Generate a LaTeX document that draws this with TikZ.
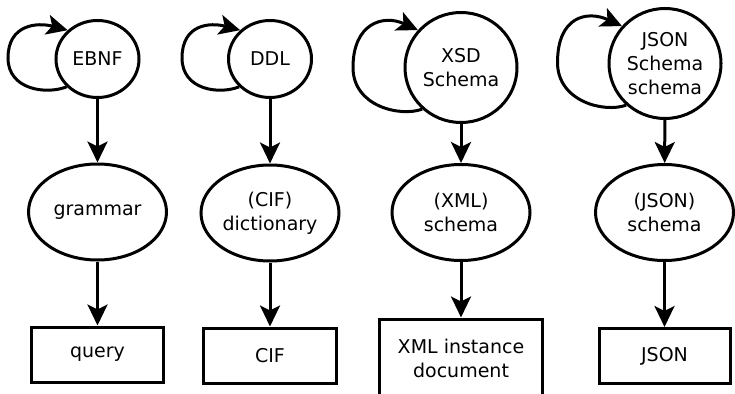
\documentclass[tikz,border=0pt]{standalone}
\usepackage{fontspec}
\setmainfont{DejaVu Sans}
\usetikzlibrary{shapes.geometric,arrows.meta,calc}
\begin{document}
\begin{tikzpicture}[x=1pt,y=-1pt,
  base/.style={font=\fontsize{19}{24}\selectfont, align=center, line width=3pt, draw, inner sep=0pt},
  smallcirc/.style={base, ellipse, minimum width=83pt, minimum height=77pt},
  bigcirc/.style={base, ellipse, minimum width=112pt, minimum height=110pt},
  oval/.style={base, ellipse, minimum width=138pt, minimum height=96pt},
  doc/.style={base, rectangle, minimum height=55pt},
  link/.style={line width=3pt, -{Stealth[length=21pt,width=20pt,inset=5pt]}},
]
\fill[white, use as bounding box] (0,0) rectangle (735,393);

\node[smallcirc] (ebnf) at (97.5,59) {EBNF};
\node[oval] (gram) at (97.5,212) {grammar};
\node[doc, minimum width=132pt] (query) at (97.5,354.5) {query};

\node[smallcirc] (ddl) at (270,59) {DDL};
\node[oval] (cifd) at (270,213) {(CIF)\\dictionary};
\node[doc, minimum width=133pt] (cif) at (270,355.5) {CIF};

\node[bigcirc] (xsd) at (461,67.5) {XSD\\Schema};
\node[oval] (xmls) at (461,212.5) {(XML)\\schema};
\node[doc, minimum width=163pt, minimum height=78pt] (xml) at (461,358) {XML instance\\document};

\node[bigcirc] (jss) at (665,63.5) {JSON\\Schema\\schema};
\node[oval] (jsons) at (664.5,212.5) {(JSON)\\schema};
\node[doc, minimum width=131pt] (json) at (664.5,356) {JSON};

\draw[link] (ebnf) -- (gram);
\draw[link] (gram) -- (query);
\draw[link] (ddl) -- (cifd);
\draw[link] (cifd) -- (cif);
\draw[link] (xsd) -- (xmls);
\draw[link] (xmls) -- (xml);
\draw[link] (jss) -- (jsons);
\draw[link] (jsons) -- (json);

\draw[link] (ebnf.222) .. controls +(-20,8) and +(0,32) .. ($(ebnf.center)+(-89.5,-1)$)
  .. controls +(0,-34) and +(-30,-8) .. (ebnf.136);
\draw[link] (ddl.222) .. controls +(-20,8) and +(0,32) .. ($(ddl.center)+(-88,-1)$)
  .. controls +(0,-34) and +(-30,-8) .. (ddl.136);
\draw[link] (xsd.227) .. controls +(-22,8) and +(0,39) .. ($(xsd.center)+(-108,0)$)
  .. controls +(0,-44) and +(-35,-16) .. (xsd.139);
\draw[link] (jss.227) .. controls +(-22,8) and +(0,39) .. ($(jss.center)+(-107.5,-1)$)
  .. controls +(0,-46) and +(-35,-16) .. (jss.139);
\end{tikzpicture}
\end{document}
